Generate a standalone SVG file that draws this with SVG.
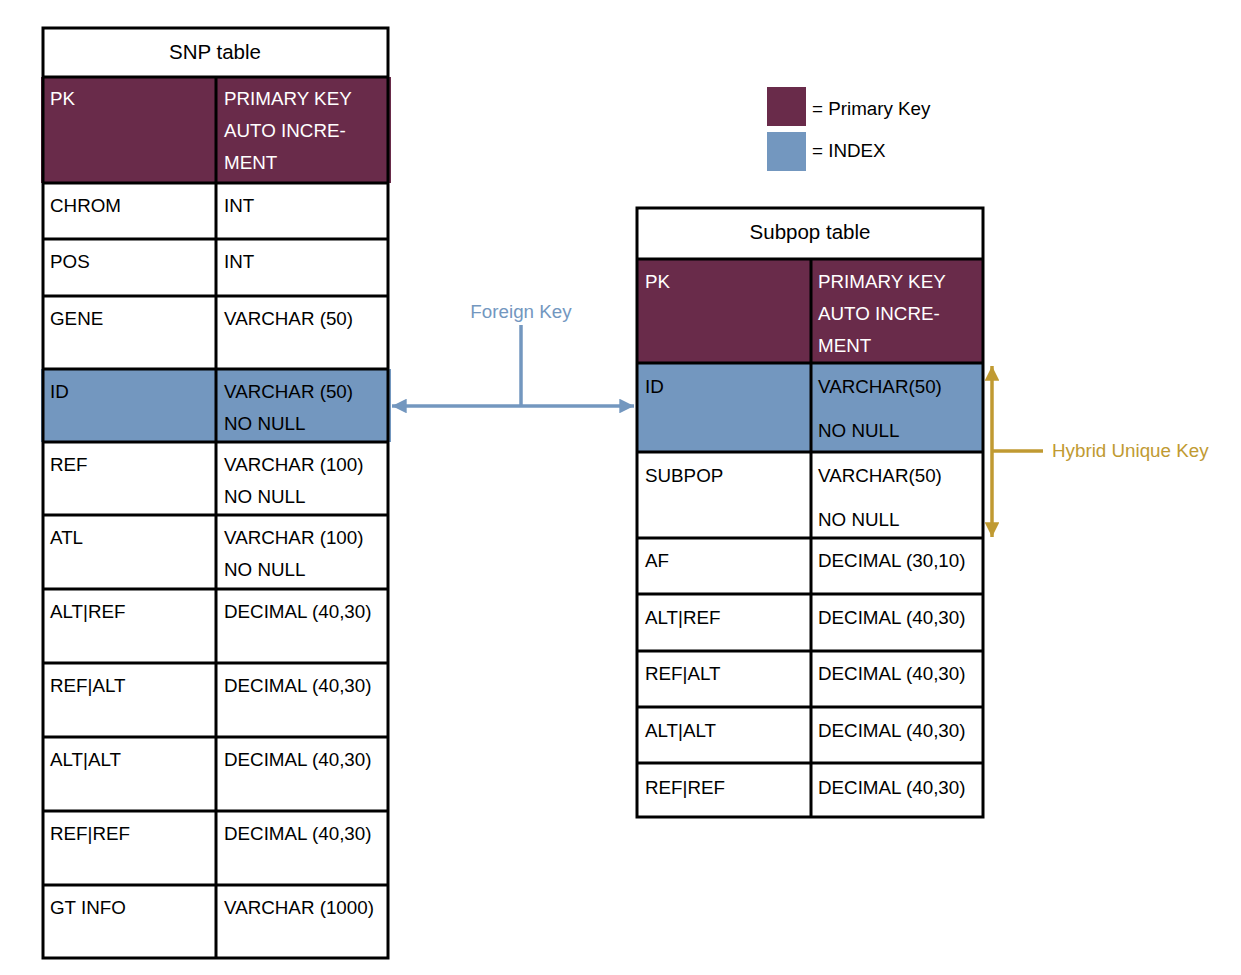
<svg xmlns="http://www.w3.org/2000/svg" width="1241" height="975" viewBox="0 0 1241 975">
<style>
text{font-family:"Liberation Sans",Arial,sans-serif;font-size:18.8px;fill:#000}
.w{fill:#fff}
.pk{fill:#692B4A}
.ix{fill:#7397BF}
.grid{fill:none;stroke:#000;stroke-width:3}
.fk{stroke:#7397BF;stroke-width:3.5;fill:none}
.hk{stroke:#C09A32;stroke-width:3.5;fill:none}
.title{font-size:20.5px;text-anchor:middle}
</style>
<defs>
<marker id="ab" viewBox="0 0 10 10" refX="10" refY="5" markerWidth="4.2" markerHeight="4.2" orient="auto-start-reverse" markerUnits="strokeWidth"><path d="M0,0L10,5L0,10z" fill="#7397BF"/></marker>
<marker id="ag" viewBox="0 0 10 10" refX="10" refY="5" markerWidth="4.2" markerHeight="4.2" orient="auto-start-reverse" markerUnits="strokeWidth"><path d="M0,0L10,5L0,10z" fill="#C09A32"/></marker>
</defs>
<rect width="1241" height="975" fill="#fff"/>

<g id="snp-table">
<rect class="pk" x="41" y="77" width="350" height="106"/>
<rect class="ix" x="41" y="369" width="350" height="73"/>
<rect class="grid" x="43" y="28" width="345" height="930"/>
<path class="grid" d="M43,77H388M43,183H388M43,239H388M43,296H388M43,369H388M43,442H388M43,515H388M43,589H388M43,663H388M43,737H388M43,811H388M43,885H388M216,77V958"/>
<text class="title" x="215" y="59">SNP table</text>
<text class="w" x="50" y="105">PK</text>
<text class="w" x="224" y="105">PRIMARY KEY</text>
<text class="w" x="224" y="137">AUTO INCRE-</text>
<text class="w" x="224" y="169">MENT</text>
<text x="50" y="212">CHROM</text><text x="224" y="212">INT</text>
<text x="50" y="268">POS</text><text x="224" y="268">INT</text>
<text x="50" y="325">GENE</text><text x="224" y="325">VARCHAR (50)</text>
<text x="50" y="398">ID</text><text x="224" y="398">VARCHAR (50)</text><text x="224" y="430">NO NULL</text>
<text x="50" y="471">REF</text><text x="224" y="471">VARCHAR (100)</text><text x="224" y="503">NO NULL</text>
<text x="50" y="544">ATL</text><text x="224" y="544">VARCHAR (100)</text><text x="224" y="576">NO NULL</text>
<text x="50" y="618">ALT|REF</text><text x="224" y="618">DECIMAL (40,30)</text>
<text x="50" y="692">REF|ALT</text><text x="224" y="692">DECIMAL (40,30)</text>
<text x="50" y="766">ALT|ALT</text><text x="224" y="766">DECIMAL (40,30)</text>
<text x="50" y="840">REF|REF</text><text x="224" y="840">DECIMAL (40,30)</text>
<text x="50" y="914">GT INFO</text><text x="224" y="914">VARCHAR (1000)</text>
</g>

<g id="subpop-table">
<rect class="pk" x="638" y="259" width="345" height="104"/>
<rect class="ix" x="638" y="363" width="345" height="89"/>
<rect class="grid" x="637" y="208" width="346" height="609"/>
<path class="grid" d="M637,259H983M637,363H983M637,452H983M637,538H983M637,594H983M637,651H983M637,707H983M637,763H983M811,259V817"/>
<text class="title" x="810" y="239">Subpop table</text>
<text class="w" x="645" y="288">PK</text>
<text class="w" x="818" y="288">PRIMARY KEY</text>
<text class="w" x="818" y="320">AUTO INCRE-</text>
<text class="w" x="818" y="352">MENT</text>
<text x="645" y="393">ID</text><text x="818" y="393">VARCHAR(50)</text><text x="818" y="437">NO NULL</text>
<text x="645" y="482">SUBPOP</text><text x="818" y="482">VARCHAR(50)</text><text x="818" y="526">NO NULL</text>
<text x="645" y="567">AF</text><text x="818" y="567">DECIMAL (30,10)</text>
<text x="645" y="624">ALT|REF</text><text x="818" y="624">DECIMAL (40,30)</text>
<text x="645" y="680">REF|ALT</text><text x="818" y="680">DECIMAL (40,30)</text>
<text x="645" y="737">ALT|ALT</text><text x="818" y="737">DECIMAL (40,30)</text>
<text x="645" y="794">REF|REF</text><text x="818" y="794">DECIMAL (40,30)</text>
</g>

<g id="legend">
<rect class="pk" x="767" y="87" width="39" height="39"/>
<rect class="ix" x="767" y="132" width="39" height="39"/>
<text x="812" y="115">= Primary Key</text>
<text x="812" y="157">= INDEX</text>
</g>

<g id="connectors">
<path class="fk" d="M521,325V406"/>
<path class="fk" d="M392,406H634" marker-start="url(#ab)" marker-end="url(#ab)"/>
<text x="521" y="318" text-anchor="middle" style="fill:#7397BF">Foreign Key</text>
<path class="hk" d="M992,366V537" marker-start="url(#ag)" marker-end="url(#ag)"/>
<path class="hk" d="M992,451H1043"/>
<text x="1052" y="457" style="fill:#C09A32">Hybrid Unique Key</text>
</g>
</svg>
